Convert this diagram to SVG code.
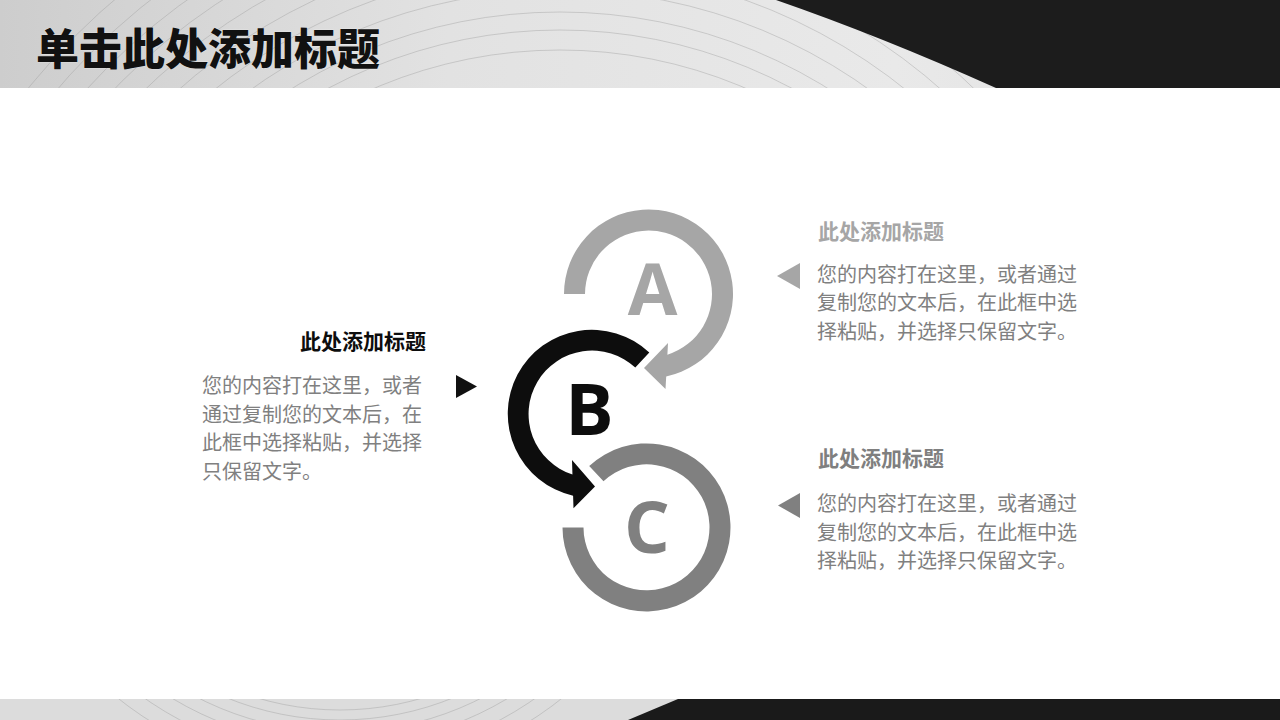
<svg xmlns="http://www.w3.org/2000/svg" width="1280" height="720" viewBox="0 0 1280 720">
  <defs>
    <linearGradient id="hdrGrad" x1="0" y1="0" x2="1" y2="0">
      <stop offset="0" stop-color="#cdcdcd"/>
      <stop offset="0.35" stop-color="#e2e2e2"/>
      <stop offset="0.7" stop-color="#e9e9e9"/>
      <stop offset="1" stop-color="#dedede"/>
    </linearGradient>
    <clipPath id="hdrClip"><rect x="0" y="0" width="1000" height="88"/></clipPath>
    <clipPath id="ftrClip"><rect x="0" y="699" width="680" height="21"/></clipPath>
    <style>
      .body { font-family: "Noto Sans CJK SC", "Noto Sans", sans-serif; font-size: 20px; fill: #808080; }
      .ttl { font-family: "Noto Sans CJK SC", "Noto Sans", sans-serif; font-size: 21px; font-weight: 700; }
      .letter { font-family: "Open Sans", "DejaVu Sans", sans-serif; font-size: 72px; font-weight: 700; text-anchor: middle; }
      .swirl { fill: none; stroke: #9a9a9a; stroke-width: 1; opacity: 0.4; }
    </style>
  </defs>

  <rect x="0" y="0" width="1280" height="720" fill="#ffffff"/>

  <!-- header band -->
  <g id="header">
    <rect x="0" y="0" width="1280" height="88" fill="url(#hdrGrad)"/>
    <g clip-path="url(#hdrClip)">
      <circle class="swirl" cx="560" cy="520" r="470"/>
      <circle class="swirl" cx="560" cy="520" r="490"/>
      <circle class="swirl" cx="560" cy="520" r="508"/>
      <circle class="swirl" cx="560" cy="520" r="530"/>
      <circle class="swirl" cx="560" cy="520" r="552"/>
      <circle class="swirl" cx="560" cy="520" r="575"/>
      <circle class="swirl" cx="560" cy="520" r="598"/>
      <circle class="swirl" cx="560" cy="520" r="620"/>
      <circle class="swirl" cx="560" cy="520" r="640"/>
      <circle class="swirl" cx="560" cy="520" r="662"/>
      <circle class="swirl" cx="560" cy="520" r="685"/>
    </g>
    <path d="M 776 0 Q 880 36 996 88 L 1280 88 L 1280 0 Z" fill="#1c1c1c"/>
    <text x="36" y="64.5" font-family="Noto Sans CJK SC, Noto Sans, sans-serif" font-size="43" font-weight="900" fill="#111111" stroke="#ffffff" stroke-width="0.6" stroke-opacity="0.5" paint-order="stroke">单击此处添加标题</text>
  </g>

  <!-- footer band -->
  <g id="footer">
    <rect x="0" y="699" width="1280" height="21" fill="#dcdcdc"/>
    <g clip-path="url(#ftrClip)">
      <circle class="swirl" cx="340" cy="420" r="290"/>
      <circle class="swirl" cx="340" cy="420" r="300"/>
      <circle class="swirl" cx="340" cy="420" r="312"/>
      <circle class="swirl" cx="340" cy="420" r="325"/>
      <circle class="swirl" cx="340" cy="420" r="340"/>
      <circle class="swirl" cx="340" cy="420" r="356"/>
    </g>
    <path d="M 678 699 L 1280 699 L 1280 720 L 628 720 Z" fill="#1a1a1a"/>
  </g>

  <!-- ring nodes -->
  <g id="node-A">
    <path d="M 564 294 A 84.5 84.5 0 1 1 666.2 376.6 L 665.5 389 L 644 368 L 668 343 L 667.4 354.7 A 63.5 63.5 0 1 0 585 294 Z" fill="#a6a6a6"/>
    <text class="letter" x="652.5" y="315" fill="#a6a6a6">A</text>
  </g>
  <g id="node-B">
    <path d="M 649.3 352.6 A 84 84 0 1 0 573.1 495.7 L 573.5 508.3 L 595 486.5 L 572 460 L 572.45 474.5 A 63.5 63.5 0 1 1 635.3 367.6 Z" fill="#0d0d0d"/>
    <text class="letter" x="589.5" y="435" fill="#0d0d0d">B</text>
  </g>
  <g id="node-C">
    <path d="M 589.2 466 A 84 84 0 1 1 562.5 527.4 L 583.5 527.4 A 63 63 0 1 0 603.5 481.3 Z" fill="#808080"/>
    <text class="letter" x="647" y="553" fill="#808080">C</text>
  </g>

  <!-- text blocks -->
  <g id="text-left">
    <text class="ttl" x="426" y="348.5" text-anchor="end" fill="#0d0d0d">此处添加标题</text>
    <text class="body" x="202" y="393">您的内容打在这里，或者</text>
    <text class="body" x="202" y="421.5">通过复制您的文本后，在</text>
    <text class="body" x="202" y="450">此框中选择粘贴，并选择</text>
    <text class="body" x="202" y="478.5">只保留文字。</text>
  </g>
  <g id="text-right-1">
    <text class="ttl" x="818" y="239" fill="#a6a6a6">此处添加标题</text>
    <text class="body" x="817" y="281.5">您的内容打在这里，或者通过</text>
    <text class="body" x="817" y="310">复制您的文本后，在此框中选</text>
    <text class="body" x="817" y="338.5">择粘贴，并选择只保留文字。</text>
  </g>
  <g id="text-right-2">
    <text class="ttl" x="818" y="465.5" fill="#7f7f7f">此处添加标题</text>
    <text class="body" x="817" y="511">您的内容打在这里，或者通过</text>
    <text class="body" x="817" y="539.5">复制您的文本后，在此框中选</text>
    <text class="body" x="817" y="568">择粘贴，并选择只保留文字。</text>
  </g>

  <!-- connectors (pointer triangles) -->
  <g id="connectors">
    <polygon points="456,375 477,386.5 456,398" fill="#111111"/>
    <polygon points="800,263 800,289 777,276" fill="#a6a6a6"/>
    <polygon points="800,493 800,518 778,505.5" fill="#808080"/>
  </g>
</svg>
